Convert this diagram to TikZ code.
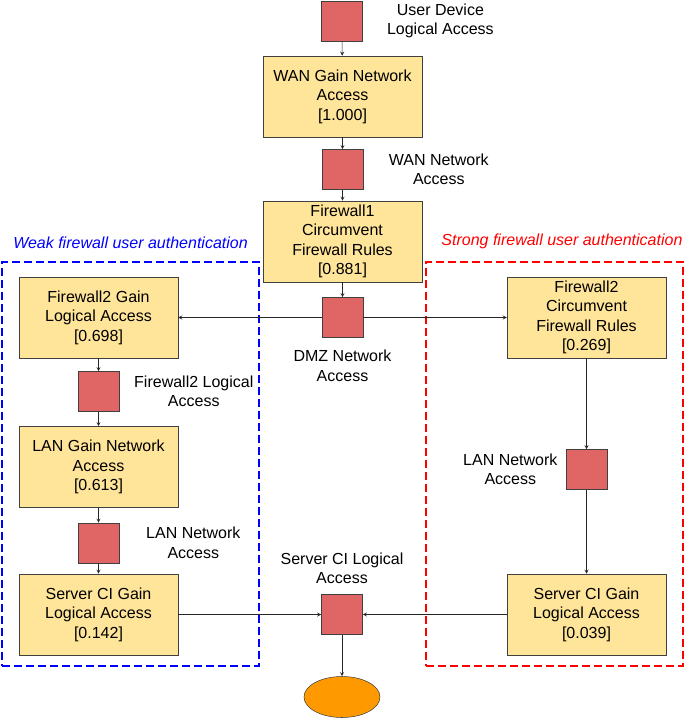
\documentclass[tikz,border=0pt]{standalone}
\usepackage{fontspec}
\setmainfont{Liberation Sans}
\usepackage{tikz}
\usetikzlibrary{shapes.geometric, arrows.meta, positioning}
\definecolor{gainyellow}{HTML}{FFE599}
\definecolor{accessred}{HTML}{E06666}
\definecolor{goalorange}{HTML}{FF9900}
\definecolor{edgegray}{HTML}{404040}

\begin{document}
\begin{tikzpicture}[x=0.75pt, y=-0.75pt,
    font=\fontsize{12}{14.6}\selectfont,
    gain/.style={rectangle, draw=edgegray, fill=gainyellow, minimum width=119pt, minimum height=60.75pt, align=center, inner sep=2pt},
    access/.style={rectangle, draw=edgegray, fill=accessred, minimum width=30.75pt, minimum height=30pt, inner sep=0pt},
    note/.style={align=center, inner sep=0pt},
    zone/.style={rectangle, line width=1.5pt, dash pattern=on 6pt off 3pt, minimum width=192.75pt, minimum height=303pt, inner sep=0pt},
    arrow/.style={->, >=stealth, draw=black!85}]

    \useasboundingbox (0,0) rectangle (685,718);

    % authentication zones
    \node[zone, draw=blue] (weak) at (130.5,464) {};
    \node[zone, draw=red] (strong) at (554.5,464) {};
    \node[note, text=blue, font=\fontsize{12}{14.6}\selectfont\itshape, above=9pt of weak.north] (weaklbl) {Weak firewall user authentication};
    \node[note, text=red, font=\fontsize{12}{14.6}\selectfont\itshape, above=9pt of strong.north, xshift=5.6pt] (stronglbl) {Strong firewall user authentication};

    % main column
    \node[access] (usr) at (342,21) {};
    \node[note, right=18pt of usr] (usrlbl) {User Device\\Logical Access};
    \node[gain] (wan) at (342.5,96.5) {WAN Gain Network\\Access\\{[1.000]}};
    \node[access] (wanacc) at (342.5,169.5) {};
    \node[note, right=19pt of wanacc] (wanlbl) {WAN Network\\Access};
    \node[gain] (fw1) at (342.5,241.5) {Firewall1\\Circumvent\\Firewall Rules\\{[0.881]}};
    \node[access] (dmz) at (342.5,317.5) {};
    \node[note, below=9pt of dmz] (dmzlbl) {DMZ Network\\Access};

    % weak side
    \node[gain] (fw2gain) at (98.5,317.5) {Firewall2 Gain\\Logical Access\\{[0.698]}};
    \node[access] (fw2acc) at (98.5,391.5) {};
    \node[note, right=11pt of fw2acc] (fw2lbl) {Firewall2 Logical\\Access};
    \node[gain] (langain) at (98.5,467) {LAN Gain Network\\Access\\{[0.613]}};
    \node[access] (lanacc) at (98.5,543) {};
    \node[note, right=20pt of lanacc] (lanlbl) {LAN Network\\Access};
    \node[gain] (scgain) at (98.5,614.5) {Server CI Gain\\Logical Access\\{[0.142]}};

    % strong side
    \node[gain] (fw2circ) at (586.5,317.5) {Firewall2\\Circumvent\\Firewall Rules\\{[0.269]}};
    \node[access] (lanaccR) at (586.5,469.5) {};
    \node[note, left=6pt of lanaccR] (lanlblR) {LAN Network\\Access};
    \node[gain] (scgainR) at (586.5,614.5) {Server CI Gain\\Logical Access\\{[0.039]}};

    % goal
    \node[access] (scacc) at (342,614.5) {};
    \node[note, above=7.5pt of scacc] (sclbl) {Server CI Logical\\Access};
    \node[ellipse, draw=edgegray, fill=goalorange, minimum width=57pt, minimum height=30.75pt] (goal) at (342,697) {};

    \draw[arrow] (usr) -- (wan);
    \draw[arrow] (wan) -- (wanacc);
    \draw[arrow] (wanacc) -- (fw1);
    \draw[arrow] (fw1) -- (dmz);
    \draw[arrow] (dmz) -- (fw2gain);
    \draw[arrow] (dmz) -- (fw2circ);
    \draw[arrow] (fw2gain) -- (fw2acc);
    \draw[arrow] (fw2acc) -- (langain);
    \draw[arrow] (langain) -- (lanacc);
    \draw[arrow] (lanacc) -- (scgain);
    \draw[arrow] (scgain) -- (scacc);
    \draw[arrow] (fw2circ) -- (lanaccR);
    \draw[arrow] (lanaccR) -- (scgainR);
    \draw[arrow] (scgainR) -- (scacc);
    \draw[arrow] (scacc) -- (goal);
\end{tikzpicture}
\end{document}
